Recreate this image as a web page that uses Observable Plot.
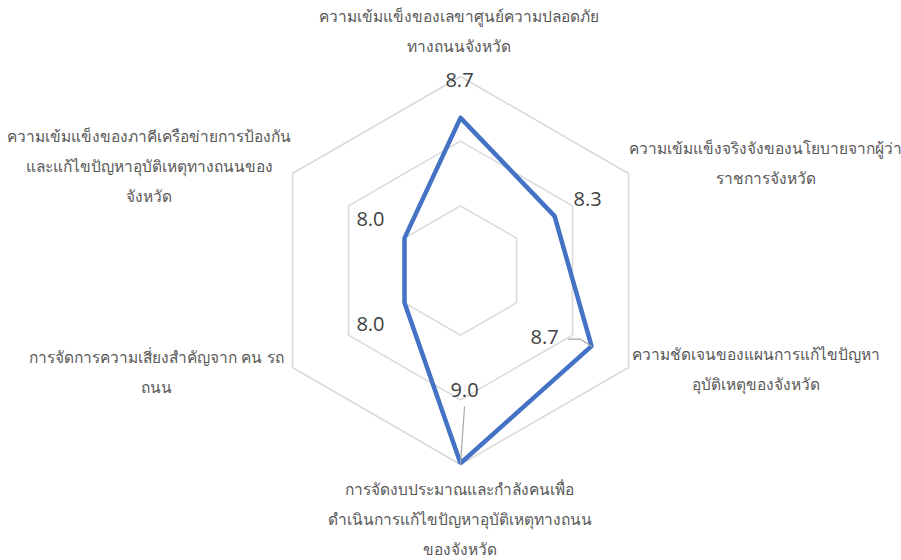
<!DOCTYPE html>
<html><head><meta charset="utf-8">
<script src="https://cdn.jsdelivr.net/npm/d3@7"></script>
<script src="https://cdn.jsdelivr.net/npm/@observablehq/plot@0.6"></script>
<style>html,body{margin:0;padding:0;background:#fff}#chart{width:901px;height:560px}</style>
</head><body><div id="chart"></div>
<script>
const categories = [
  "ความเข้มแข็งของเลขาศูนย์ความปลอดภัย\nทางถนนจังหวัด",
  "ความเข้มแข็งจริงจังของนโยบายจากผู้ว่า\nราชการจังหวัด",
  "ความชัดเจนของแผนการแก้ไขปัญหา\nอุบัติเหตุของจังหวัด",
  "การจัดงบประมาณและกำลังคนเพื่อ\nดำเนินการแก้ไขปัญหาอุบัติเหตุทางถนน\nของจังหวัด",
  "การจัดการความเสี่ยงสำคัญจาก คน รถ\nถนน",
  "ความเข้มแข็งของภาคีเครือข่ายการป้องกัน\nและแก้ไขปัญหาอุบัติเหตุทางถนนของ\nจังหวัด"
];
const values = [8.68, 8.34, 8.67, 8.99, 8.0, 8.0];
const valueLabels = ["8.7", "8.3", "8.7", "9.0", "8.0", "8.0"];
const gridLevels = [8.0, 8.5, 9.0];
const axisMin = 7.5, axisMax = 9.0;

// layout (pixels)
const W = 901, H = 560, CX = 460, CY = 270, R = 194;
const catLabelOffset = [[-2, -49], [137, -14], [127, -2], [-1, 51], [-136, 1], [-143, -11]];
const valueLabelOffset = [[-1, -37], [33, -17], [-47, -9], [4, -73], [-34, 22], [-34, -19]];

const frac = v => (v - axisMin) / (axisMax - axisMin);
const polar = (f, i) => {
  const t = i * Math.PI / 3;
  return [f * Math.sin(t), f * Math.cos(t)];
};
const off = ([x, y], [dx, dy]) => [x + dx / R, y - dy / R];

const grid = gridLevels.flatMap(level =>
  d3.range(7).map(k => { const [x, y] = polar(frac(level), k % 6); return {level, x, y}; }));
const series = d3.range(7).map(k => { const i = k % 6; const [x, y] = polar(frac(values[i]), i); return {x, y}; });

const cats = categories.map((c, i) => {
  const [x, y] = off(polar(1, i), catLabelOffset[i]);
  return {text: c, x, y};
});
const vlabels = valueLabels.map((t, i) => {
  const [x, y] = off(polar(frac(values[i]), i), valueLabelOffset[i]);
  return {text: t, x, y};
});
// leader lines for labels 2 and 3
const leaders = [];
{
  const p2 = polar(frac(values[2]), 2), l2 = [vlabels[2].x, vlabels[2].y];
  [off(l2, [24, 2]), off(l2, [36, 2]), p2].forEach(([x, y]) => leaders.push({id: 2, x, y}));
  const p3 = polar(frac(values[3]), 3), l3 = [vlabels[3].x, vlabels[3].y];
  [off(l3, [0, 17]), p3].forEach(([x, y]) => leaders.push({id: 3, x, y}));
}

const chart = Plot.plot({
  width: W, height: H,
  margin: 0,
  x: {domain: [-CX / R, (W - CX) / R], axis: null},
  y: {domain: [-(H - CY) / R, CY / R], axis: null},
  style: {background: "#fff", fontFamily: "'Open Sans', 'Noto Sans', sans-serif"},
  marks: [
    Plot.line(grid, {x: "x", y: "y", z: "level", stroke: "#D9D9D9", strokeWidth: 1.5}),
    Plot.line(series, {x: "x", y: "y", stroke: "#4472C4", strokeWidth: 4.5, strokeLinejoin: "miter", curve: "linear"}),
    Plot.line(leaders, {x: "x", y: "y", z: "id", stroke: "#A6A6A6", strokeWidth: 1.2}),
    Plot.text(vlabels, {x: "x", y: "y", text: "text", fontSize: 20, fill: "#404040"}),
    Plot.text(cats, {x: "x", y: "y", text: "text", fontSize: 15.5, lineHeight: 1.95, fill: "#595959"})
  ]
});
document.getElementById("chart").appendChild(chart);
</script>
</body></html>
